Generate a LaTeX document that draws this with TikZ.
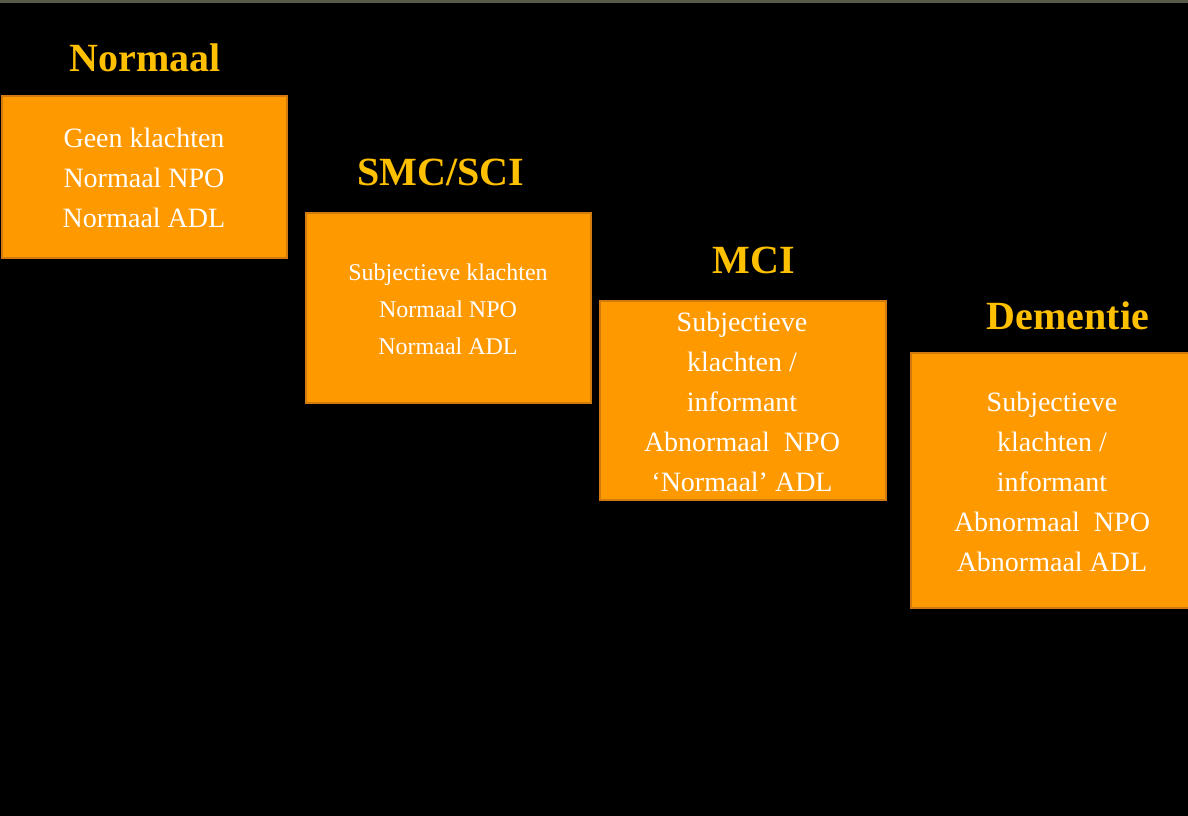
\documentclass[tikz,border=0pt]{standalone}
\usepackage{fontspec}
\setmainfont{Liberation Serif}
\definecolor{boxor}{HTML}{FF9900}
\definecolor{boxed}{HTML}{D07A10}
\definecolor{ttl}{HTML}{FFC000}
\definecolor{topl}{HTML}{5A5A48}
\begin{document}
\begin{tikzpicture}[x=1pt,y=-1pt]
\tikzset{
 stage/.style={fill=boxor,draw=boxed,line width=2.5pt},
 btxt/.style={text=white,align=center,font=\fontsize{28}{40}\selectfont},
 stxt/.style={text=white,align=center,font=\fontsize{24}{37}\selectfont},
 ttlt/.style={text=ttl,font=\fontsize{40}{44}\selectfont\bfseries}
}
\fill[black] (0,0) rectangle (1188,816);
\fill[topl] (0,0) rectangle (1188,3);
\useasboundingbox (0,0) rectangle (1188,816);
\draw[stage] (2,96) rectangle (287,258);
\draw[stage] (306,213) rectangle (591,403);
\draw[stage] (600,301) rectangle (886,500);
\draw[stage] (911,353) rectangle (1192,608);
\node[ttlt] (t1) at (145,58) {Normaal};
\node[ttlt] (t2) at (441,172) {SMC/SCI};
\node[ttlt] (t3) at (754,260) {MCI};
\node[ttlt] (t4) at (1068,316) {Dementie};
\node[btxt] (b1) at (144,178) {Geen klachten\\Normaal NPO\\Normaal ADL};
\node[stxt] (b2) at (448,309) {Subjectieve klachten\\Normaal NPO\\Normaal ADL};
\node[btxt] (b3) at (742,402) {Subjectieve\\klachten /\\informant\\Abnormaal\ \ NPO\\‘Normaal’ ADL};
\node[btxt] (b4) at (1052,482) {Subjectieve\\klachten /\\informant\\Abnormaal\ \ NPO\\Abnormaal ADL};
\end{tikzpicture}
\end{document}
